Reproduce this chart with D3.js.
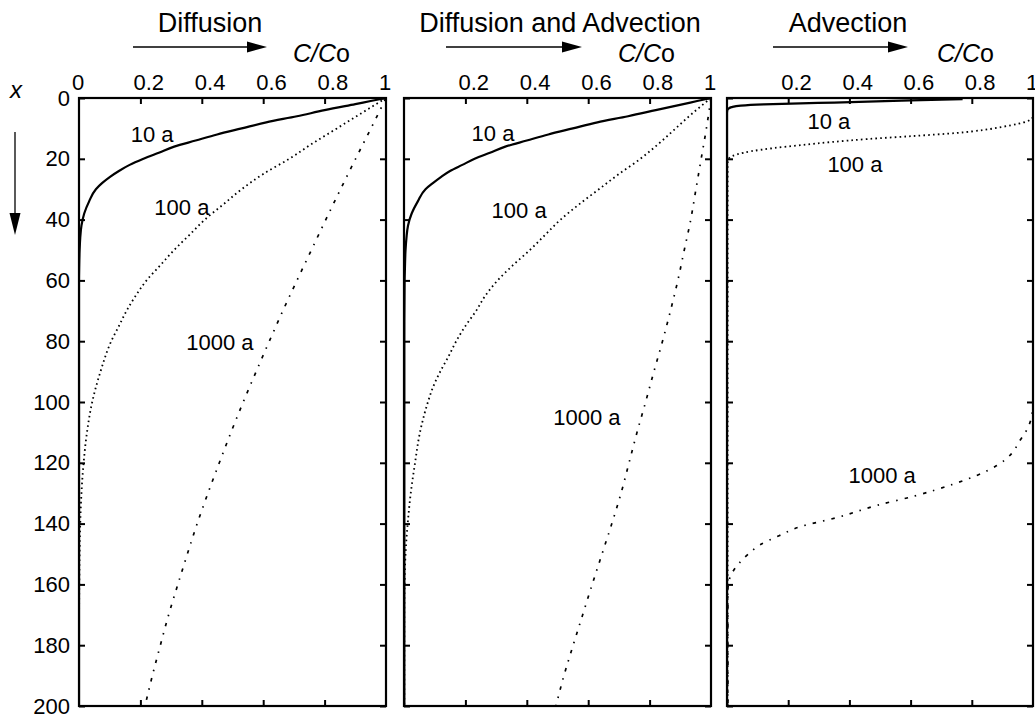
<!DOCTYPE html>
<html><head><meta charset="utf-8">
<script src="https://cdn.jsdelivr.net/npm/d3@7"></script>
<style>
body{margin:0;background:#fff;}
svg{display:block;}
text{font-family:"Liberation Sans",Arial,Helvetica,sans-serif;fill:#000;}
</style>
</head><body>
<svg id="chart" width="1035" height="718"></svg>
<script>
// ---------------- data ----------------
const panelTitles = ["Diffusion", "Diffusion and Advection", "Advection"];
const seriesNames = ["10 a", "100 a", "1000 a"];
const yTickValues = [0, 20, 40, 60, 80, 100, 120, 140, 160, 180, 200];
const xTickMarks = [0.2, 0.4, 0.6, 0.8];
const xTickLabelsFirst = [0, 0.2, 0.4, 0.6, 0.8, 1];
const xTickLabelsOther = [0.2, 0.4, 0.6, 0.8, 1];

// Panel 1: Diffusion
const diff10Depth = [0,1,2,4,6,8,10,12,14,16,18,20,22,24,26,28,30,34,38,42,46,50,56,60,80,100,120,140,160,180,200];
const diff10C     = [1,0.95,0.90,0.80,0.71,0.61,0.53,0.45,0.38,0.31,0.26,0.21,0.165,0.13,0.10,0.075,0.055,0.033,0.017,0.008,0.004,0.002,0.0005,0,0,0,0,0,0,0,0];
const diff100Depth = [0,5,10,15,20,25,30,35,40,45,50,55,60,65,70,75,80,90,100,110,120,130,140,150,160,180,200];
const diff100C     = [1,0.92,0.84,0.76,0.685,0.60,0.53,0.47,0.41,0.36,0.31,0.265,0.22,0.185,0.155,0.13,0.105,0.07,0.043,0.026,0.015,0.008,0.004,0.002,0.001,0,0];
const diff1000Depth = [0,10,20,30,40,50,60,70,80,90,100,110,120,130,140,150,160,170,180,190,200];
const diff1000C     = [1,0.951,0.901,0.852,0.804,0.757,0.710,0.664,0.620,0.577,0.535,0.495,0.457,0.420,0.385,0.353,0.322,0.292,0.265,0.239,0.215];

// Panel 2: Diffusion and Advection
const da10Depth = [0,1,2,4,6,8,10,12,14,16,18,20,22,24,26,28,30,34,38,42,46,50,56,60,80,100,120,140,160,180,200];
const da10C     = [1,0.955,0.91,0.82,0.73,0.63,0.55,0.47,0.40,0.33,0.28,0.23,0.19,0.15,0.12,0.094,0.07,0.045,0.025,0.013,0.008,0.005,0.003,0.002,0.001,0.001,0.001,0.001,0.001,0.001,0.001];
const da100Depth = [0,5,10,15,20,25,30,35,40,45,50,55,60,65,70,75,80,85,90,95,100,110,120,130,140,150,160,170,180,200];
const da100C     = [1,0.94,0.885,0.83,0.77,0.70,0.635,0.57,0.51,0.46,0.41,0.355,0.305,0.265,0.235,0.20,0.17,0.145,0.118,0.095,0.078,0.052,0.036,0.022,0.012,0.005,0.002,0.001,0.001,0.001];
const da1000Depth = [0,10,20,30,40,50,60,70,80,90,100,110,120,130,140,150,160,170,180,190,200];
const da1000C     = [1,0.985,0.968,0.951,0.934,0.913,0.892,0.868,0.842,0.814,0.787,0.759,0.733,0.707,0.677,0.645,0.613,0.582,0.551,0.521,0.495];

// Panel 3: Advection
const adv10Depth = [0.4,0.8,1.2,1.5,1.75,2.1,2.5,3.0,3.5,4.0,5,200];
const adv10C     = [0.77,0.60,0.46,0.35,0.24,0.12,0.045,0.015,0.005,0.001,0,0];
const adv100Depth = [0,6,7.5,8.5,9.5,10.5,11.5,12.5,13.5,14.5,15.5,16.5,17.5,18.5,19.5,20.5,22,30,60,100,150,200];
const adv100C     = [1,1,0.985,0.95,0.90,0.84,0.75,0.61,0.46,0.34,0.24,0.15,0.08,0.035,0.01,0.003,0.002,0.002,0.002,0.002,0.002,0.002];
const adv1000Depth = [0,100,105,110,113,117,121,124,127,131,134,138,141,144,147,150,153,156,159,162,170,200];
const adv1000C     = [1,1,0.995,0.975,0.955,0.93,0.88,0.82,0.74,0.61,0.49,0.36,0.24,0.17,0.108,0.07,0.04,0.018,0.006,0.003,0.003,0.003];

// label anchor points in data units [C, depth]
const labelPosDiff = [[0.238, 11.8], [0.335, 35.9], [0.459, 80.3]];
const labelPosDA   = [[0.290, 11.5], [0.375, 36.8], [0.596, 104.9]];
const labelPosAdv  = [[0.333, 7.6],  [0.418, 21.7], [0.507, 124.0]];

// ---------------- layout / style ----------------
const zip = (d, c) => d.map((v, i) => ({d: v, c: c[i]}));
const styles = [
  {w: 2.2, dash: null},
  {w: 1.8, dash: "1.6,3.2"},
  {w: 1.7, dash: "3.5,7,1.5,7"}
];
const panels = [
  {title: panelTitles[0], x0: 79, x1: 386, titleX: 210, arrow: [133, 267], cx: 293, leftLabels: true,
   labels: xTickLabelsFirst, labelPos: labelPosDiff,
   series: [zip(diff10Depth, diff10C), zip(diff100Depth, diff100C), zip(diff1000Depth, diff1000C)]},
  {title: panelTitles[1], x0: 404, x1: 711, titleX: 560, arrow: [446, 582], cx: 618, leftLabels: false,
   labels: xTickLabelsOther, labelPos: labelPosDA,
   series: [zip(da10Depth, da10C), zip(da100Depth, da100C), zip(da1000Depth, da1000C)]},
  {title: panelTitles[2], x0: 727, x1: 1033, titleX: 848, arrow: [773, 908], cx: 937, leftLabels: false,
   labels: xTickLabelsOther, labelPos: labelPosAdv,
   series: [zip(adv10Depth, adv10C), zip(adv100Depth, adv100C), zip(adv1000Depth, adv1000C)]}
];

const svg = d3.select("#chart");
const y = d3.scaleLinear().domain([0, 200]).range([98, 706]);

// y label "x" and down arrow
svg.append("text").attr("x", 16).attr("y", 98).attr("text-anchor", "middle")
  .style("font-size", "24px").style("font-style", "italic").text("x");
svg.append("line").attr("x1", 15).attr("x2", 15).attr("y1", 132).attr("y2", 216)
  .attr("stroke", "#000").attr("stroke-width", 1.3);
svg.append("path").attr("d", "M9.5,213 L20.5,213 L15,235 Z").attr("fill", "#000");

panels.forEach((p, pi) => {
  const x = d3.scaleLinear().domain([0, 1]).range([p.x0, p.x1]);
  const g = svg.append("g");

  // title, arrow, C/Co
  g.append("text").attr("x", p.titleX).attr("y", 32).attr("text-anchor", "middle")
    .style("font-size", "27px").text(p.title);
  g.append("line").attr("x1", p.arrow[0]).attr("x2", p.arrow[1] - 18).attr("y1", 47).attr("y2", 47)
    .attr("stroke", "#000").attr("stroke-width", 1.3);
  g.append("path").attr("d", `M${p.arrow[1]-20},41.5 L${p.arrow[1]-20},52.5 L${p.arrow[1]},47 Z`).attr("fill", "#000");
  const ct = g.append("text").attr("x", p.cx).attr("y", 62).style("font-size", "25px");
  ct.append("tspan").style("font-style", "italic").text("C/C");
  ct.append("tspan").text("o");

  // clip
  const cid = "clip" + pi;
  svg.append("clipPath").attr("id", cid).append("rect")
    .attr("x", p.x0 - 1).attr("y", 97).attr("width", p.x1 - p.x0 + 2).attr("height", 610);

  const line = d3.line().x(d => x(d.c)).y(d => y(d.d)).curve(d3.curveMonotoneY);
  p.series.forEach((s, si) => {
    g.append("path").datum(s).attr("clip-path", `url(#${cid})`)
      .attr("d", line).attr("fill", "none").attr("stroke", "#000")
      .attr("stroke-width", styles[si].w)
      .attr("stroke-dasharray", styles[si].dash)
      .attr("stroke-linejoin", "round");
    const lp = p.labelPos[si];
    g.append("text").attr("x", x(lp[0])).attr("y", y(lp[1])).attr("dy", "0.36em")
      .attr("text-anchor", "middle").style("font-size", "22px").text(seriesNames[si]);
  });

  // axes: ticks inward
  const top = g.append("g").attr("transform", "translate(0,98)")
    .call(d3.axisTop(x).tickValues(xTickMarks).tickSize(-6).tickFormat(""));
  const bottom = g.append("g").attr("transform", "translate(0,706)")
    .call(d3.axisBottom(x).tickValues(xTickMarks).tickSize(-6).tickFormat(""));
  const left = g.append("g").attr("transform", `translate(${p.x0},0)`)
    .call(d3.axisLeft(y).tickValues(yTickValues).tickSize(-6).tickPadding(9)
      .tickFormat(p.leftLabels ? d3.format("d") : ""));
  const right = g.append("g").attr("transform", `translate(${p.x1},0)`)
    .call(d3.axisRight(y).tickValues(yTickValues).tickSize(-6).tickFormat(""));
  [top, bottom, left, right].forEach(a => {
    a.select(".domain").remove();
    a.selectAll(".tick line").attr("stroke", "#000").attr("stroke-width", 2);
  });
  left.selectAll("text").style("font-size", "22px").attr("font-family", null).attr("fill", "#000");

  // top labels
  const lab = g.append("g").attr("transform", "translate(0,90)");
  lab.selectAll("text").data(p.labels).join("text")
    .attr("x", d => x(d) - 7).attr("y", 0).attr("text-anchor", "start")
    .style("font-size", "22px").text(d => d3.format("~g")(d));

  // frame
  g.append("rect").attr("x", p.x0).attr("y", 98).attr("width", p.x1 - p.x0).attr("height", 608)
    .attr("fill", "none").attr("stroke", "#000").attr("stroke-width", 2.2);
});
</script>
</body></html>
